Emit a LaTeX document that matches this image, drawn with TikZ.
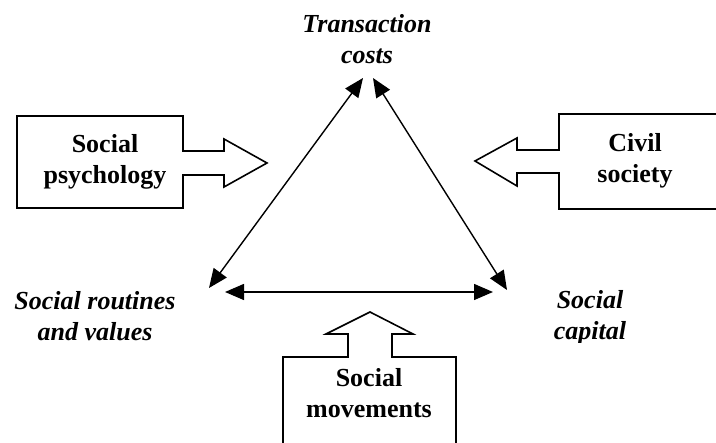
\documentclass[tikz,border=0pt]{standalone}
\usepackage{fontspec}
\setmainfont{Liberation Serif}
\usetikzlibrary{arrows.meta}

\tikzset{
  blockline/.style={line width=1.6pt, line join=miter},
  link/.style={line width=1.4pt, {Triangle[length=19pt,width=16pt]}-{Triangle[length=19pt,width=16pt]}},
  boxtext/.style={font=\fontsize{26}{31}\selectfont\bfseries, align=center, inner sep=0pt},
  cornertext/.style={font=\fontsize{26}{31}\selectfont\bfseries\itshape, align=center, inner sep=0pt},
}

\begin{document}
\begin{tikzpicture}[x=1pt,y=-1pt]
			%%%%% START %%%%%
			
			\useasboundingbox (0,0) rectangle (716,443);
			\clip (0,0) rectangle (716,443);
			
			\draw[blockline] (17,116) -- (183,116) -- (183,151) -- (224,151) -- (224,139) -- (267,163) -- (224,187) -- (224,175) -- (183,175) -- (183,208) -- (17,208) -- cycle;
			\node[boxtext, anchor=base] (psych) at (105,184) {Social\\psychology};
			
			\draw[blockline] (730,114) -- (559,114) -- (559,150) -- (517,150) -- (517,138) -- (475,161) -- (517,186) -- (517,173) -- (559,173) -- (559,209) -- (730,209);
			\node[boxtext, anchor=base] (civil) at (635,183) {Civil\\society};
			
			\draw[blockline] (283,460) -- (283,357) -- (348,357) -- (348,334) -- (326,334) -- (370,312) -- (413,334) -- (392,334) -- (392,357) -- (456,357) -- (456,460);
			\node[boxtext, anchor=base] (moves) at (369,418) {Social\\movements};
			
			\node[cornertext, anchor=base] (tc) at (367,64) {Transaction\\costs};
			\begin{scope}
				\clip (0,0) rectangle (716,343);
				\node[cornertext, anchor=base] (sr) at (95,341) {Social routines\\and values};
				\node[cornertext, anchor=base] (sc) at (590,340) {Social\\capital};
			\end{scope}
			
			\coordinate (tcL) at (363,78);
			\coordinate (tcR) at (373,78);
			\coordinate (srT) at (209,288);
			\coordinate (srR) at (225,292);
			\coordinate (scL) at (493,292);
			\coordinate (scT) at (507,290);
			
			\draw[link] (srT) -- (tcL);
			\draw[link] (tcR) -- (scT);
			\draw[link] (srR) -- (scL);
			
			%%%%% END %%%%%
		\end{tikzpicture}
\end{document}
